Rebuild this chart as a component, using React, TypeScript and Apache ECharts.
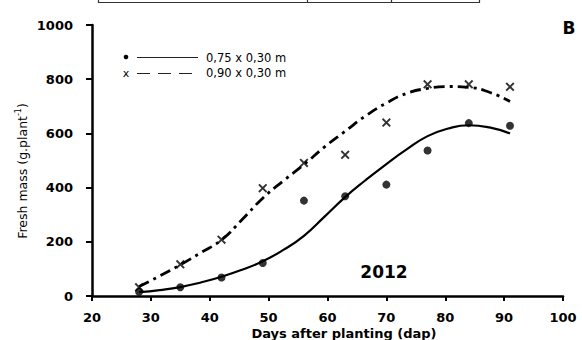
import React, { useEffect, useRef } from "react";
import * as echarts from "echarts";

const xTicks = [20, 30, 40, 50, 60, 70, 80, 90, 100];
const yTicks = [0, 200, 400, 600, 800, 1000];

const obsDays = [28, 35, 42, 49, 56, 63, 70, 77, 84, 91];
const obs075 = [16, 32, 68, 122, 352, 368, 411, 537, 638, 628];
const obs090 = [32, 117, 208, 398, 491, 521, 640, 781, 781, 772];

const fitDays = [28, 31.5, 35, 38.5, 42, 45.5, 49, 52.5, 56, 59.5, 63, 66.5, 70, 73.5, 77, 80.5, 84, 87.5, 91];
const fit075 = [14, 22, 33, 50, 71, 97, 128, 170, 222, 293, 365, 428, 487, 542, 590, 618, 630, 622, 600];
const fit090 = [35, 74, 115, 160, 207, 282, 361, 425, 485, 550, 608, 665, 712, 748, 766, 773, 770, 752, 718];

const legendLabels = ["0,75 x 0,30 m", "0,90 x 0,30 m"];
const xAxisTitle = "Days after planting (dap)";
const yAxisTitle = "Fresh mass (g.plant";
const yAxisSup = "-1";
const yearLabel = "2012";
const panelLabel = "B";

const FONT = "'DejaVu Sans', Verdana, sans-serif";
const CROSS = "path://M0,1.5L1.5,0L5,3.5L8.5,0L10,1.5L6.5,5L10,8.5L8.5,10L5,6.5L1.5,10L0,8.5L3.5,5Z";

export default function App() {
  const ref = useRef<HTMLDivElement>(null);
  useEffect(() => {
    if (!ref.current) return;
    const chart = echarts.init(ref.current, null, { renderer: "svg" });
    const axisLine = { show: true, lineStyle: { color: "#000", width: 2.5 } };
    chart.setOption({
      animation: false,
      backgroundColor: "#fff",
      grid: { left: 92, right: 19, top: 25, bottom: 44 },
      xAxis: {
        type: "value",
        min: 20,
        max: 100,
        interval: 10,
        axisLine,
        axisTick: { show: true, length: 5, lineStyle: { color: "#000", width: 2 } },
        axisLabel: {
          margin: 15,
          color: "#000",
          fontFamily: FONT,
          fontWeight: "bold",
          fontSize: 13,
          formatter: (v: number) => (xTicks.includes(v) ? String(v) : ""),
        },
        splitLine: { show: false },
      },
      yAxis: {
        type: "value",
        min: 0,
        max: 1000,
        interval: 200,
        axisLine,
        axisTick: { show: true, length: 6, lineStyle: { color: "#000", width: 2 } },
        axisLabel: {
          margin: 19,
          color: "#000",
          fontFamily: FONT,
          fontWeight: "bold",
          fontSize: 13,
          formatter: (v: number) => (yTicks.includes(v) ? String(v) : ""),
        },
        splitLine: { show: false },
      },
      series: [
        {
          type: "line",
          data: fitDays.map((d, i) => [d, fit075[i]]),
          smooth: true,
          showSymbol: false,
          lineStyle: { color: "#000", width: 2.2 },
          z: 2,
        },
        {
          type: "line",
          data: fitDays.map((d, i) => [d, fit090[i]]),
          smooth: true,
          showSymbol: false,
          lineStyle: { color: "#000", width: 2.8, type: [11, 5, 3, 5] },
          z: 2,
        },
        {
          type: "scatter",
          data: obsDays.map((d, i) => [d, obs075[i]]),
          symbol: "circle",
          symbolSize: 8,
          itemStyle: { color: "#000" },
          z: 3,
        },
        {
          type: "scatter",
          data: obsDays.map((d, i) => [d, obs090[i]]),
          symbol: CROSS,
          symbolSize: 9,
          itemStyle: { color: "#000" },
          z: 3,
        },
      ],
      graphic: [
        // table remnant at top
        { type: "line", shape: { x1: 98, y1: 2.5, x2: 480, y2: 2.5 }, style: { stroke: "#333", lineWidth: 1.2 } },
        { type: "line", shape: { x1: 98.5, y1: 0, x2: 98.5, y2: 3 }, style: { stroke: "#333", lineWidth: 1.2 } },
        { type: "line", shape: { x1: 307.5, y1: 0, x2: 307.5, y2: 3 }, style: { stroke: "#333", lineWidth: 1.2 } },
        { type: "line", shape: { x1: 391.5, y1: 0, x2: 391.5, y2: 3 }, style: { stroke: "#333", lineWidth: 1.2 } },
        { type: "line", shape: { x1: 479.5, y1: 0, x2: 479.5, y2: 3 }, style: { stroke: "#333", lineWidth: 1.2 } },
        // legend
        { type: "circle", shape: { cx: 126, cy: 57, r: 2.3 }, style: { fill: "#000" } },
        { type: "line", shape: { x1: 137, y1: 57.5, x2: 198, y2: 57.5 }, style: { stroke: "#222", lineWidth: 1 } },
        { type: "text", x: 206, y: 58, style: { text: legendLabels[0], fontFamily: FONT, fontSize: 11.5, fill: "#000", verticalAlign: "middle" } },
        { type: "text", x: 126, y: 73, style: { text: "x", fontFamily: FONT, fontSize: 11, fill: "#000", align: "center", verticalAlign: "middle" } },
        { type: "line", shape: { x1: 137, y1: 73.5, x2: 198, y2: 73.5 }, style: { stroke: "#222", lineWidth: 1, lineDash: [13, 8] } },
        { type: "text", x: 206, y: 73, style: { text: legendLabels[1], fontFamily: FONT, fontSize: 11.5, fill: "#000", verticalAlign: "middle" } },
        // axis titles
        { type: "text", x: 344, y: 333, style: { text: xAxisTitle, fontFamily: FONT, fontSize: 13, fontWeight: "bold", fill: "#000", align: "center", verticalAlign: "middle" } },
        {
          type: "text",
          x: 22,
          y: 171,
          rotation: Math.PI / 2,
          style: {
            text: "{a|" + yAxisTitle + "}{s|" + yAxisSup + "}{a|)}",
            align: "center",
            verticalAlign: "middle",
            fill: "#000",
            rich: {
              a: { fontFamily: FONT, fontSize: 12.5, fill: "#000", color: "#000" },
              s: { fontFamily: FONT, fontSize: 8, fill: "#000", color: "#000", padding: [0, 0, 7, 0] },
            },
          },
        },
        // labels
        { type: "text", x: 384, y: 272, style: { text: yearLabel, fontFamily: FONT, fontSize: 17, fontWeight: "bold", fill: "#000", align: "center", verticalAlign: "middle" } },
        { type: "text", x: 569, y: 28, style: { text: panelLabel, fontFamily: FONT, fontSize: 17, fontWeight: "bold", fill: "#000", align: "center", verticalAlign: "middle" } },
      ],
    });
    return () => chart.dispose();
  }, []);
  return <div ref={ref} style={{ width: 582, height: 340, position: "fixed", left: 0, top: 0 }} />;
}
